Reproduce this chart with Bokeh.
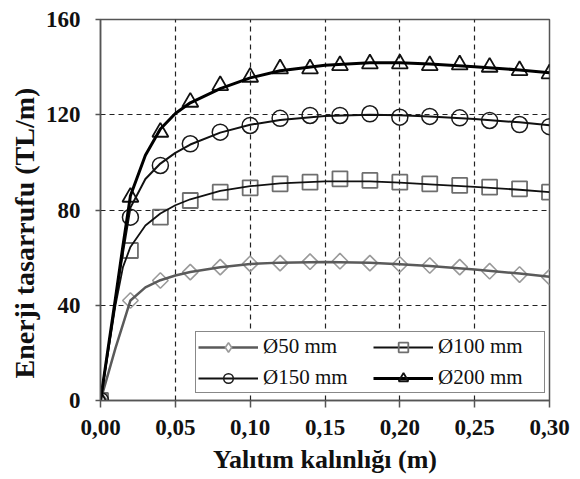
import math
from bokeh.plotting import figure
from bokeh.models import Legend, LegendItem, FixedTicker, CustomJSTickFormatter, Title
from bokeh.embed import file_html
from bokeh.resources import INLINE

# ---- data ----
x_marker = [0.00, 0.02, 0.04, 0.06, 0.08, 0.10, 0.12, 0.14, 0.16, 0.18, 0.20, 0.22, 0.24, 0.26, 0.28, 0.30]
m50 = [0, 42, 50.4, 53.9, 56, 57.4, 57.7, 58.3, 58.5, 57.7, 57.1, 56.7, 56, 54.3, 52.9, 51.8]
m100 = [0, 63, 77, 84, 87.5, 89.3, 91, 91.7, 93.1, 92.4, 91.7, 91, 90.3, 89.6, 88.9, 87.5]
m150 = [0, 77, 98.7, 107.8, 112.7, 115.5, 118.5, 119.7, 119.7, 120.4, 119, 119.3, 118.7, 117.6, 115.9, 115]
m200 = [0, 85.4, 112.7, 125.3, 132.3, 135.8, 139.3, 139.3, 140.7, 141.4, 141.4, 140.7, 141, 140, 138.6, 137.2]

x_curve = [0, 0.005, 0.01, 0.015, 0.02, 0.03, 0.04, 0.05, 0.06, 0.08, 0.10, 0.12, 0.15, 0.18, 0.20, 0.22, 0.25, 0.28, 0.30]
c50 = [0, 11, 22, 32, 42, 47.5, 50.5, 52.5, 54, 56, 57.3, 57.9, 58.2, 57.8, 57.2, 56.5, 55, 53.3, 52]
c100 = [0, 20, 40, 56, 64.5, 73.5, 78.5, 82, 84.5, 88, 90, 91.2, 92, 92, 91.5, 90.8, 89.7, 88.5, 87.5]
c150 = [0, 21, 42, 62, 81, 93, 99.5, 104, 107.5, 112.5, 115.8, 117.8, 119.5, 120, 119.8, 119.3, 118.2, 116.8, 115.6]
c200 = [0, 21.5, 43, 65, 86, 103, 114, 120.5, 125, 131, 135.5, 138.5, 140.8, 141.8, 141.8, 141.3, 140.2, 138.8, 137.6]

labels = ["Ø50 mm", "Ø100 mm", "Ø150 mm", "Ø200 mm"]
x_ticks = [0.00, 0.05, 0.10, 0.15, 0.20, 0.25, 0.30]
y_ticks = [0, 40, 80, 120, 160]
x_title = "Yalıtım kalınlığı (m)"
y_title = "Enerji tasarrufu (TL/m)"

SERIF = "Liberation Serif"

p = figure(width=580, height=479, x_range=(0, 0.30), y_range=(0, 160),
           output_backend="svg", toolbar_location=None,
           min_border_left=100, min_border_right=31,
           min_border_top=19, min_border_bottom=79)
p.background_fill_color = "white"
p.border_fill_color = "white"
p.outline_line_color = "#555555"
p.outline_line_width = 1.5

for ax, ticks in ((p.xaxis, x_ticks), (p.yaxis, y_ticks)):
    ax.ticker = FixedTicker(ticks=ticks)
    ax.minor_tick_line_color = None
    ax.axis_line_color = "#555555"
    ax.axis_line_width = 1.5
    ax.major_tick_line_color = "#555555"
    ax.major_tick_line_width = 1.5
    ax.major_tick_in = 0
    ax.major_label_text_font = SERIF
    ax.major_label_text_font_style = "bold"
    ax.major_label_text_font_size = "23px"
    ax.major_label_text_color = "#111111"

p.xaxis.formatter = CustomJSTickFormatter(code="return tick.toFixed(2).replace('.', ',');")
p.xaxis.major_tick_out = 7
p.xaxis.major_label_standoff = 12
p.yaxis.major_tick_out = 5
p.yaxis.major_label_standoff = 15

for g in (p.xgrid, p.ygrid):
    g.grid_line_color = "#222222"
    g.grid_line_dash = "5 4"
    g.grid_line_width = 1.2

# axis titles
p.add_layout(Title(text=x_title, align="center", standoff=11,
                   text_font=SERIF, text_font_style="bold", text_font_size="26px",
                   text_color="#111111"), "below")
p.add_layout(Title(text=y_title, align="left", offset=22, standoff=6,
                   text_font=SERIF, text_font_style="bold", text_font_size="28px",
                   text_color="#111111"), "left")

styles = [
    dict(m=m50, c=c50, marker="square", angle=math.pi / 4, size=11, mcol="#9a9a9a", mw=1.6, lcol="#5a5a5a", lw=2.5),
    dict(m=m100, c=c100, marker="square", angle=0, size=15, mcol="#6e6e6e", mw=1.8, lcol="#111111", lw=1.8),
    dict(m=m150, c=c150, marker="circle", angle=0, size=16, mcol="#1a1a1a", mw=1.5, lcol="#111111", lw=2.0),
    dict(m=m200, c=c200, marker="triangle", angle=0, size=16, mcol="#111111", mw=1.8, lcol="#000000", lw=3.0),
]

items = []
for lab, s in zip(labels, styles):
    sc = p.scatter(x_marker, s["m"], marker=s["marker"], angle=s["angle"], size=s["size"],
                   fill_color=None, line_color=s["mcol"], line_width=s["mw"])
    ln = p.line(x_curve, s["c"], line_color=s["lcol"], line_width=s["lw"])
    rends = [ln, sc]
    if s["angle"] != 0:
        # legend swatch for the rotated-square (diamond) marker
        sw = p.scatter([float("nan")], [float("nan")], marker="diamond", size=17,
                       fill_color="white", line_color=s["mcol"], line_width=s["mw"])
        rends = [ln, sw]
    items.append(LegendItem(label=lab, renderers=rends))

legend = Legend(items=items, location=(95, 7), orientation="horizontal", ncols=2,
                label_text_font=SERIF, label_text_font_size="21px", label_text_color="#111111",
                glyph_width=60, glyph_height=24, label_height=24, label_width=104,
                label_standoff=5, spacing=6, padding=2, margin=0,
                border_line_color="#111111", border_line_width=1.5,
                background_fill_color="white", background_fill_alpha=1.0)
p.add_layout(legend)

open("out.html", "w").write(file_html(p, INLINE))
